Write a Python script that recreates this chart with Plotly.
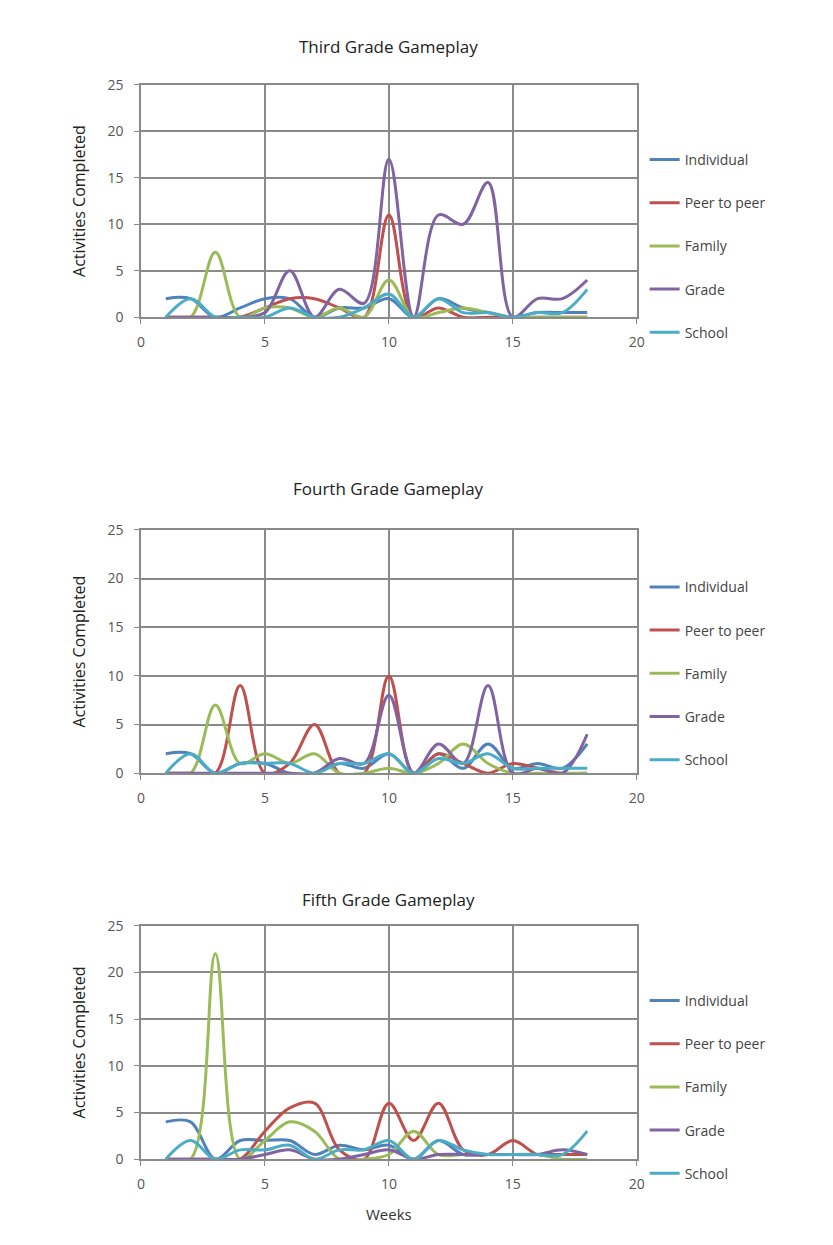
import plotly.graph_objects as go

weeks = list(range(1, 19))
series_names = ["Individual", "Peer to peer", "Family", "Grade", "School"]
colors = ["#4F81BD", "#C0504D", "#9BBB59", "#8064A2", "#4BACC6"]

titles = ["Third Grade Gameplay", "Fourth Grade Gameplay", "Fifth Grade Gameplay"]

# Third grade
g3_individual = [2, 2, 0, 1, 2, 2, 0, 1, 1, 2, 0, 2, 1, 0.5, 0, 0.5, 0.5, 0.5]
g3_peer = [0, 0, 0, 0, 1, 2, 2, 1, 0, 11, 0, 1, 0, 0, 0, 0, 0, 0]
g3_family = [0, 0, 7, 0, 1, 1, 0, 1, 0, 4, 0, 0.5, 1, 0.5, 0, 0, 0, 0]
g3_grade = [0, 0, 0, 0, 0.5, 5, 0, 3, 1.5, 17, 0, 11, 10, 14.5, 0, 2, 2, 4]
g3_school = [0, 2, 0, 0, 0, 1, 0, 0, 1, 2.5, 0, 2, 0.5, 0.5, 0, 0.5, 0.5, 3]

# Fourth grade
g4_individual = [2, 2, 0, 1, 1, 0, 0, 1, 0.5, 2, 0, 2, 0.5, 3, 0.5, 1, 0.5, 3]
g4_peer = [0, 0, 0, 9, 0, 1, 5, 0, 0, 10, 0, 2, 1, 0, 1, 0.5, 0, 0]
g4_family = [0, 0, 7, 1, 2, 1, 2, 0, 0, 0.5, 0, 1, 3, 1, 0, 0, 0, 0]
g4_grade = [0, 0, 0, 0, 0, 0, 0, 1.5, 1, 8, 0, 3, 1, 9, 0, 0.5, 0, 4]
g4_school = [0, 2, 0, 1, 1, 1, 0, 1, 1, 2, 0, 1.5, 1, 2, 0.5, 0.5, 0.5, 0.5]

# Fifth grade
g5_individual = [4, 4, 0, 2, 2, 2, 0.5, 1.5, 1, 1.5, 0, 2, 0.5, 0.5, 0.5, 0.5, 0.5, 0.5]
g5_peer = [0, 0, 0, 0, 3, 5.5, 6, 1, 0, 6, 2, 6, 1, 0.5, 2, 0.5, 0.5, 0.5]
g5_family = [0, 0, 22, 0, 2, 4, 3, 0, 0, 0.5, 3, 0.5, 0.5, 0.5, 0.5, 0.5, 0, 0]
g5_grade = [0, 0, 0, 0, 0.5, 1, 0, 0, 0.5, 1, 0, 0.5, 0.5, 0.5, 0.5, 0.5, 1, 0.5]
g5_school = [0, 2, 0, 1, 1, 1.5, 0, 1, 1, 2, 0, 2, 1, 0.5, 0.5, 0.5, 0.5, 3]

grades = [
    [g3_individual, g3_peer, g3_family, g3_grade, g3_school],
    [g4_individual, g4_peer, g4_family, g4_grade, g4_school],
    [g5_individual, g5_peer, g5_family, g5_grade, g5_school],
]

W, H = 833, 1245
FONT = "Open Sans"
x_dom = [139 / W, 642 / W]
plot_px = [(76, 312), (528, 775), (930, 1167)]
title_px = [37, 486, 903]
legend_top_px = [136, 570, 990]

fig = go.Figure()
for gi, data in enumerate(grades):
    xa = "x" if gi == 0 else f"x{gi+1}"
    ya = "y" if gi == 0 else f"y{gi+1}"
    lg = "legend" if gi == 0 else f"legend{gi+1}"
    for si in range(5):
        fig.add_trace(go.Scatter(
            x=weeks, y=data[si], mode="lines", name=series_names[si],
            line=dict(color=colors[si], width=3, shape="spline", smoothing=1),
            xaxis=xa, yaxis=ya, legend=lg, legendgroup=f"{gi}-{si}",
        ))

layout = dict(
    width=W, height=H, margin=dict(l=0, r=0, t=0, b=0),
    paper_bgcolor="white", plot_bgcolor="white",
    font=dict(family=FONT, size=14, color="#444"),
    showlegend=True,
)
annotations = []
for gi in range(3):
    top, bot = plot_px[gi]
    ydom = [1 - bot / H, 1 - top / H]
    xkey = "xaxis" if gi == 0 else f"xaxis{gi+1}"
    ykey = "yaxis" if gi == 0 else f"yaxis{gi+1}"
    yname = "y" if gi == 0 else f"y{gi+1}"
    xname = "x" if gi == 0 else f"x{gi+1}"
    layout[xkey] = dict(
        domain=x_dom, range=[0, 20], dtick=5, tick0=0, anchor=yname,
        showgrid=True, gridcolor="#8a8a8a", gridwidth=1.5,
        showline=True, linecolor="#8a8a8a", linewidth=1.5, mirror=True,
        ticks="outside", ticklen=5, tickcolor="#8a8a8a",
        tickfont=dict(size=14, color="#555"), ticklabelstandoff=6,
        zeroline=False,
        title=dict(text="Weeks", font=dict(size=15, color="#333"), standoff=18) if gi == 2 else None,
    )
    layout[ykey] = dict(
        domain=ydom, range=[0, 25], dtick=5, tick0=0, anchor=xname,
        showgrid=True, gridcolor="#8a8a8a", gridwidth=1.5,
        showline=True, linecolor="#8a8a8a", linewidth=1.5, mirror=True,
        ticks="outside", ticklen=5, tickcolor="#8a8a8a",
        tickfont=dict(size=14, color="#555"), ticklabelstandoff=8,
        zeroline=False,
        title=dict(text="Activities Completed", font=dict(size=16, color="#222"), standoff=18),
    )
    lkey = "legend" if gi == 0 else f"legend{gi+1}"
    layout[lkey] = dict(
        x=650 / W, y=1 - legend_top_px[gi] / H, xanchor="left", yanchor="top",
        font=dict(family=FONT, size=14, color="#444"),
        tracegroupgap=22, bgcolor="rgba(0,0,0,0)", itemwidth=30,
    )
    annotations.append(dict(
        text=titles[gi], x=390 / W, y=1 - title_px[gi] / H, xref="paper", yref="paper",
        showarrow=False, xanchor="center", yanchor="middle",
        font=dict(family=FONT, size=17, color="#222"),
    ))
layout["annotations"] = annotations
fig.update_layout(**layout)
fig.write_html("out.html")
